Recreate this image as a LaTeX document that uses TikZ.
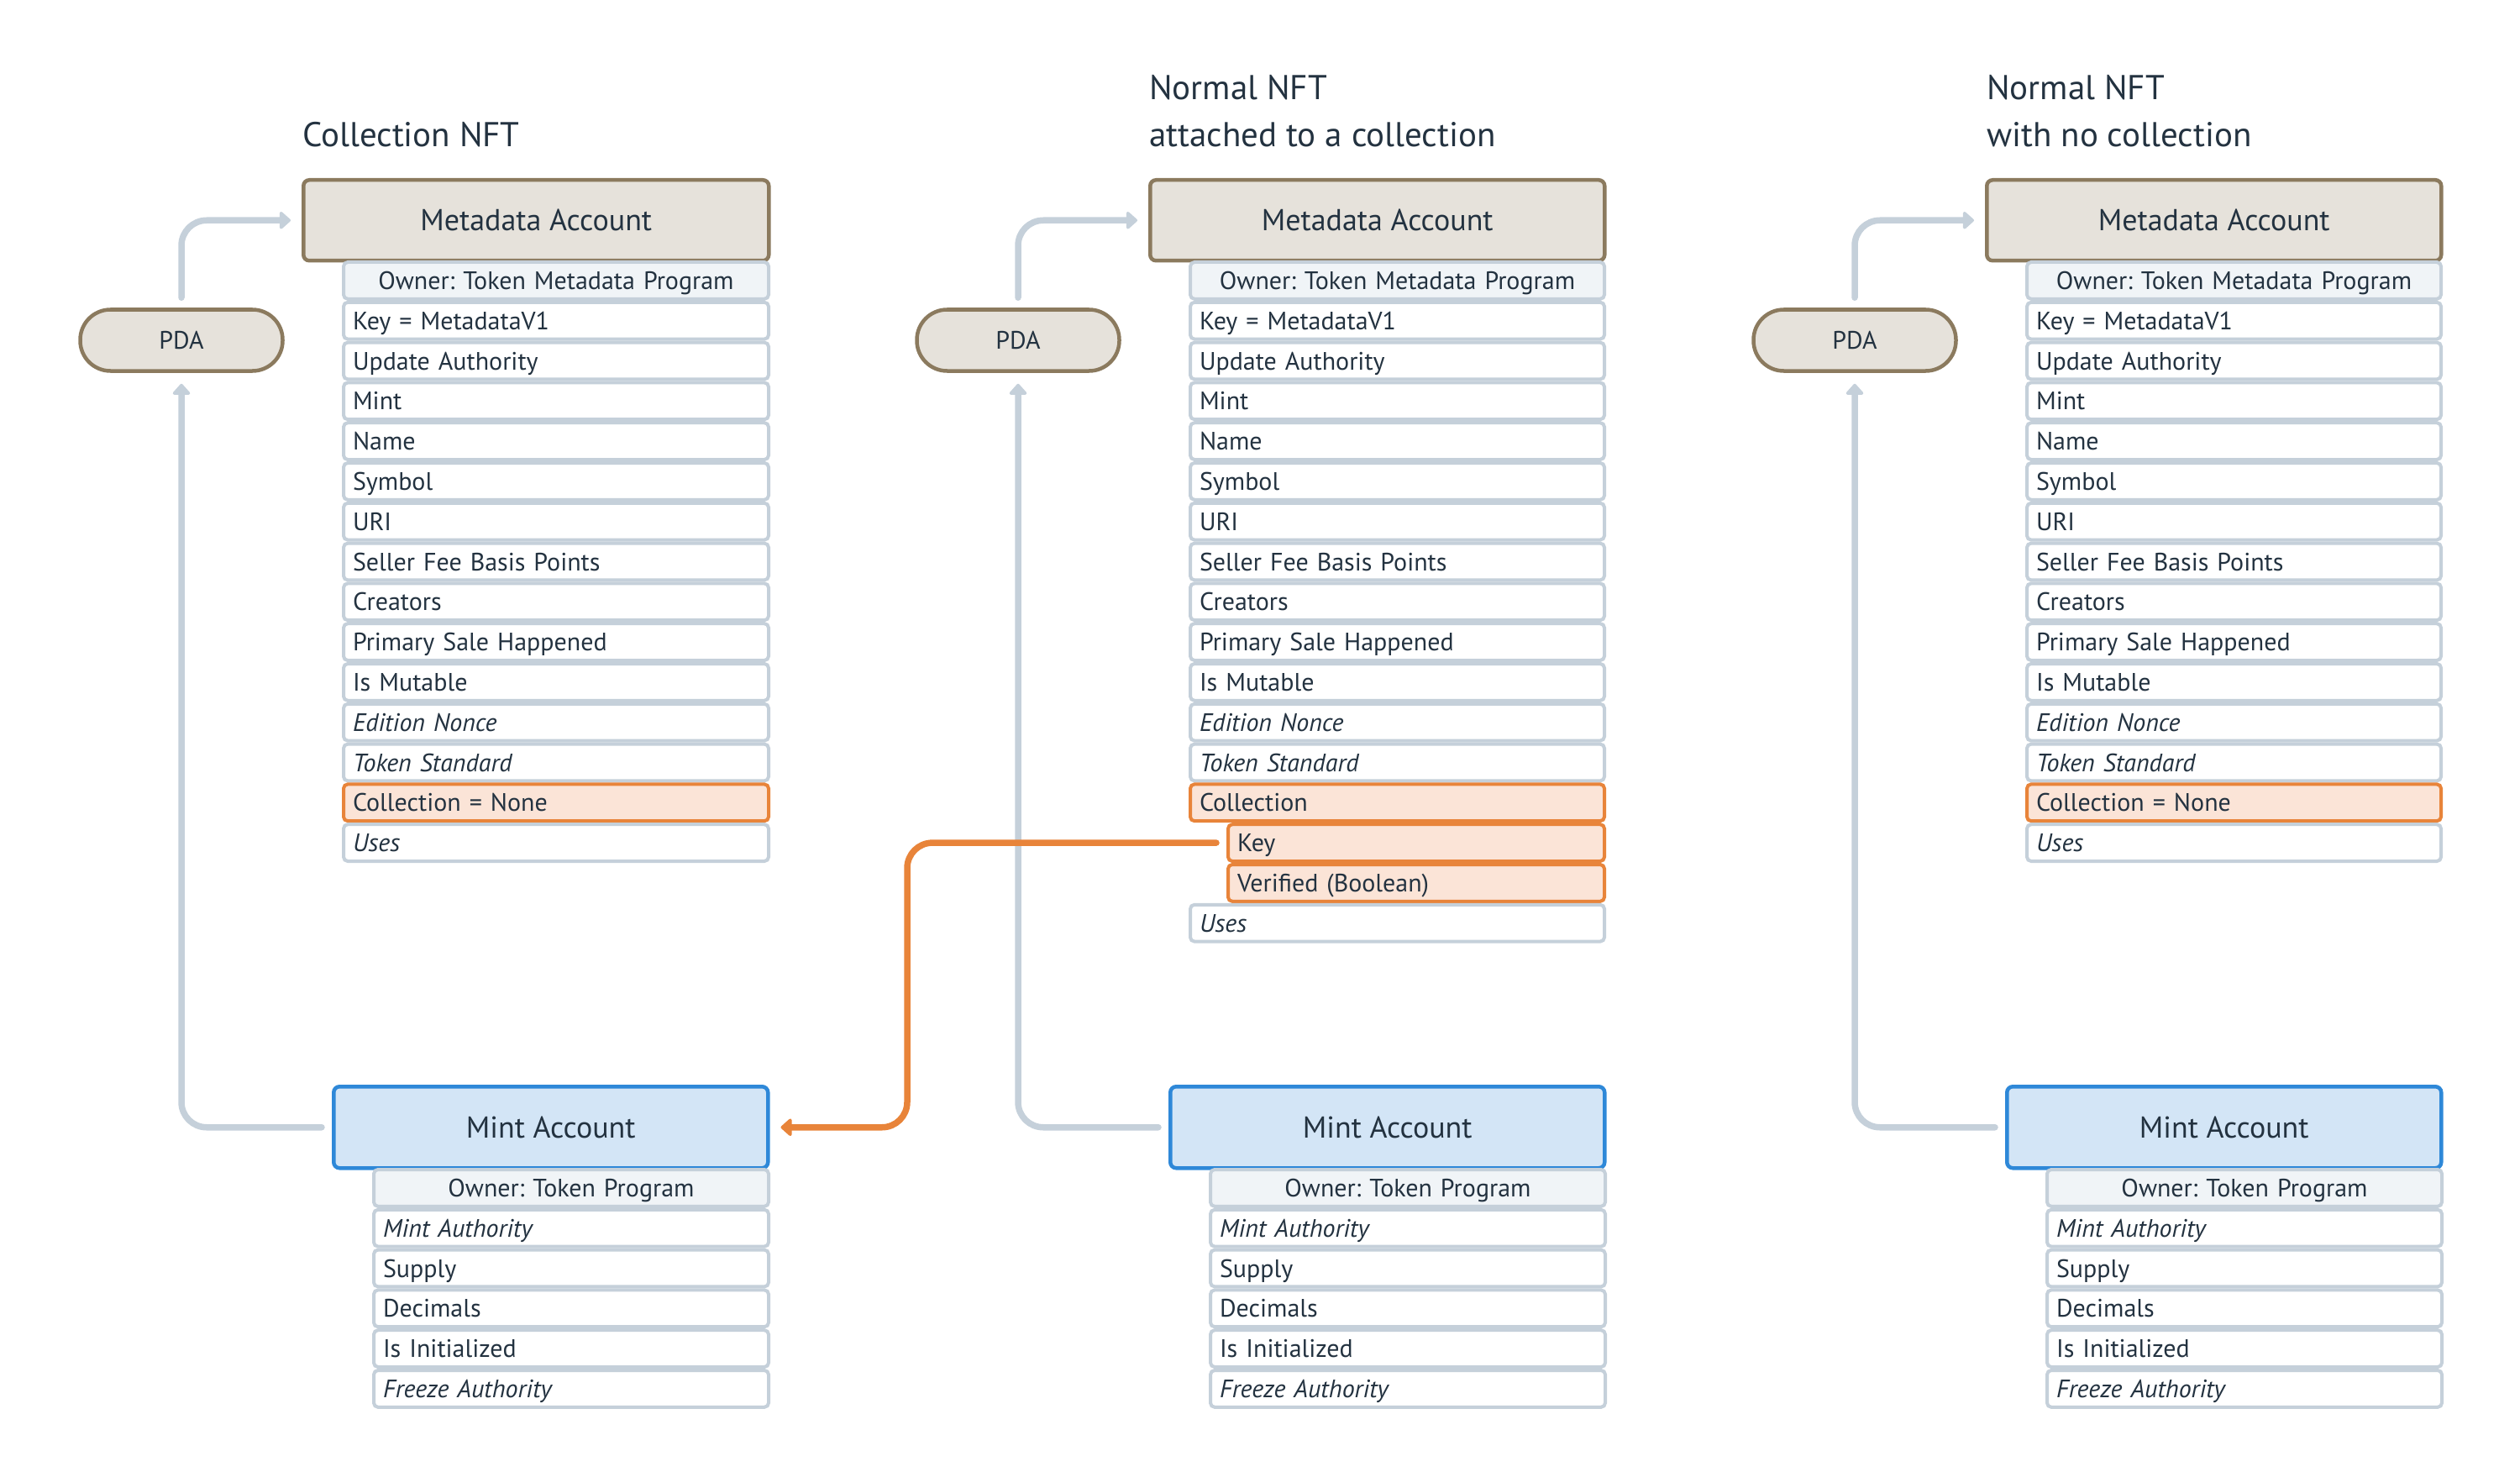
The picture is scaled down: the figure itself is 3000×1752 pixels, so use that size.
\documentclass[tikz,border=0pt]{standalone}
\usepackage{fontspec}
\setmainfont{PT Sans}
\usetikzlibrary{
    arrows.meta,
    positioning
}

\definecolor{ink}{HTML}{233240}
\definecolor{metafill}{HTML}{E6E2DB}
\definecolor{metaline}{HTML}{8B7A5E}
\definecolor{rowline}{HTML}{C5D0DA}
\definecolor{ownerfill}{HTML}{F0F4F7}
\definecolor{mintfill}{HTML}{D3E5F6}
\definecolor{mintline}{HTML}{2E88D8}
\definecolor{hotfill}{HTML}{FBE4D7}
\definecolor{hotline}{HTML}{E8843A}

\frenchspacing

\begin{document}
\begin{tikzpicture}[x=1pt,y=-1pt,
    every node/.style={text=ink},
    heading/.style={anchor=base west, align=left, inner sep=0,
        font=\fontsize{41}{56}\selectfont},
    meta/.style={draw=metaline, fill=metafill, line width=4.5,
        rounded corners=7, anchor=north west, minimum height=96,
        inner sep=0, font=\fontsize{36}{40}\selectfont},
    mint/.style={meta, draw=mintline, fill=mintfill, minimum height=97,
        minimum width=517},
    pda/.style={draw=metaline, fill=metafill, line width=4.5,
        rounded corners=36, minimum width=241, minimum height=73,
        inner sep=0, font=\fontsize{30}{34}\selectfont},
    field/.style={draw=rowline, fill=white, line width=4,
        rounded corners=5, anchor=north west, minimum height=43.8,
        text height=27, text depth=6, inner xsep=11, inner ysep=0,
        text width=#1, align=left, font=\fontsize{30}{34}\selectfont},
    owner/.style={field=#1, fill=ownerfill, align=center},
    hot/.style={field=#1, draw=hotline, fill=hotfill},
    link/.style={draw=rowline, line width=7.5, line cap=round,
        rounded corners=30, -{Triangle[length=14,width=24,round]},
        shorten <=12, shorten >=13},
    clink/.style={link, draw=hotline}
]

\useasboundingbox (0,0) rectangle (3000,1752);

% Collection NFT
\node[heading] (t1) at (360,175) {Collection NFT};
\node[meta, minimum width=554] (meta1) at (359,212) {Metadata Account};
\node[owner=484] (own1) at (407,310) {Owner: Token Metadata Program};
\foreach \txt [count=\i] in {Key = MetadataV1, Update Authority, Mint,
    Name, Symbol, URI, Seller Fee Basis Points, Creators,
    Primary Sale Happened, Is Mutable, \textit{Edition Nonce},
    \textit{Token Standard}}{
    \node[field=484] (m1r\i) at (407,{310+\i*47.8}) {\txt};
}
\node[hot=484] (col1) at (407,{310+13*47.8}) {Collection = None};
\node[field=484] (use1) at (407,{310+14*47.8}) {\textit{Uses}};

\node[pda] (pda1) at (216,405) {PDA};

\node[mint] (mint1) at (395,1291) {Mint Account};
\node[owner=448] (mown1) at (443,1390) {Owner: Token Program};
\foreach \txt [count=\i] in {\textit{Mint Authority}, Supply, Decimals,
    Is Initialized, \textit{Freeze Authority}}{
    \node[field=448] (n1r\i) at (443,{1390+\i*47.8}) {\txt};
}

% Normal NFT attached to a collection
\node[heading] (t2) at (1368,175) {Normal NFT\\attached to a collection};
\node[meta, minimum width=541] (meta2) at (1367,212) {Metadata Account};
\node[owner=471] (own2) at (1415,310) {Owner: Token Metadata Program};
\foreach \txt [count=\i] in {Key = MetadataV1, Update Authority, Mint,
    Name, Symbol, URI, Seller Fee Basis Points, Creators,
    Primary Sale Happened, Is Mutable, \textit{Edition Nonce},
    \textit{Token Standard}}{
    \node[field=471] (m2r\i) at (1415,{310+\i*47.8}) {\txt};
}
\node[hot=471] (col2) at (1415,{310+13*47.8}) {Collection};
\node[hot=426] (key2) at (1460,{310+14*47.8}) {Key};
\node[hot=426] (ver2) at (1460,{310+15*47.8}) {Verified (Boolean)};
\node[field=471] (use2) at (1415,{310+16*47.8}) {\textit{Uses}};

\node[pda] (pda2) at (1212,405) {PDA};

\node[mint] (mint2) at (1391,1291) {Mint Account};
\node[owner=448] (mown2) at (1439,1390) {Owner: Token Program};
\foreach \txt [count=\i] in {\textit{Mint Authority}, Supply, Decimals,
    Is Initialized, \textit{Freeze Authority}}{
    \node[field=448] (n2r\i) at (1439,{1390+\i*47.8}) {\txt};
}

% Normal NFT with no collection
\node[heading] (t3) at (2365,175) {Normal NFT\\with no collection};
\node[meta, minimum width=541] (meta3) at (2363,212) {Metadata Account};
\node[owner=471] (own3) at (2411,310) {Owner: Token Metadata Program};
\foreach \txt [count=\i] in {Key = MetadataV1, Update Authority, Mint,
    Name, Symbol, URI, Seller Fee Basis Points, Creators,
    Primary Sale Happened, Is Mutable, \textit{Edition Nonce},
    \textit{Token Standard}}{
    \node[field=471] (m3r\i) at (2411,{310+\i*47.8}) {\txt};
}
\node[hot=471] (col3) at (2411,{310+13*47.8}) {Collection = None};
\node[field=471] (use3) at (2411,{310+14*47.8}) {\textit{Uses}};

\node[pda] (pda3) at (2208,405) {PDA};

\node[mint] (mint3) at (2387,1291) {Mint Account};
\node[owner=448] (mown3) at (2435,1390) {Owner: Token Program};
\foreach \txt [count=\i] in {\textit{Mint Authority}, Supply, Decimals,
    Is Initialized, \textit{Freeze Authority}}{
    \node[field=448] (n3r\i) at (2435,{1390+\i*47.8}) {\txt};
}

% Links
\draw[link] (pda1.north) |- (meta1.west);
\draw[link] (mint1.west) -| (pda1.south);
\draw[link] (pda2.north) |- (meta2.west);
\draw[link] (mint2.west) -| (pda2.south);
\draw[link] (pda3.north) |- (meta3.west);
\draw[link] (mint3.west) -| (pda3.south);

% Collection key
\draw[clink] (key2.west) -- ++(-380,0) |- (mint1.east);

\end{tikzpicture}
\end{document}
